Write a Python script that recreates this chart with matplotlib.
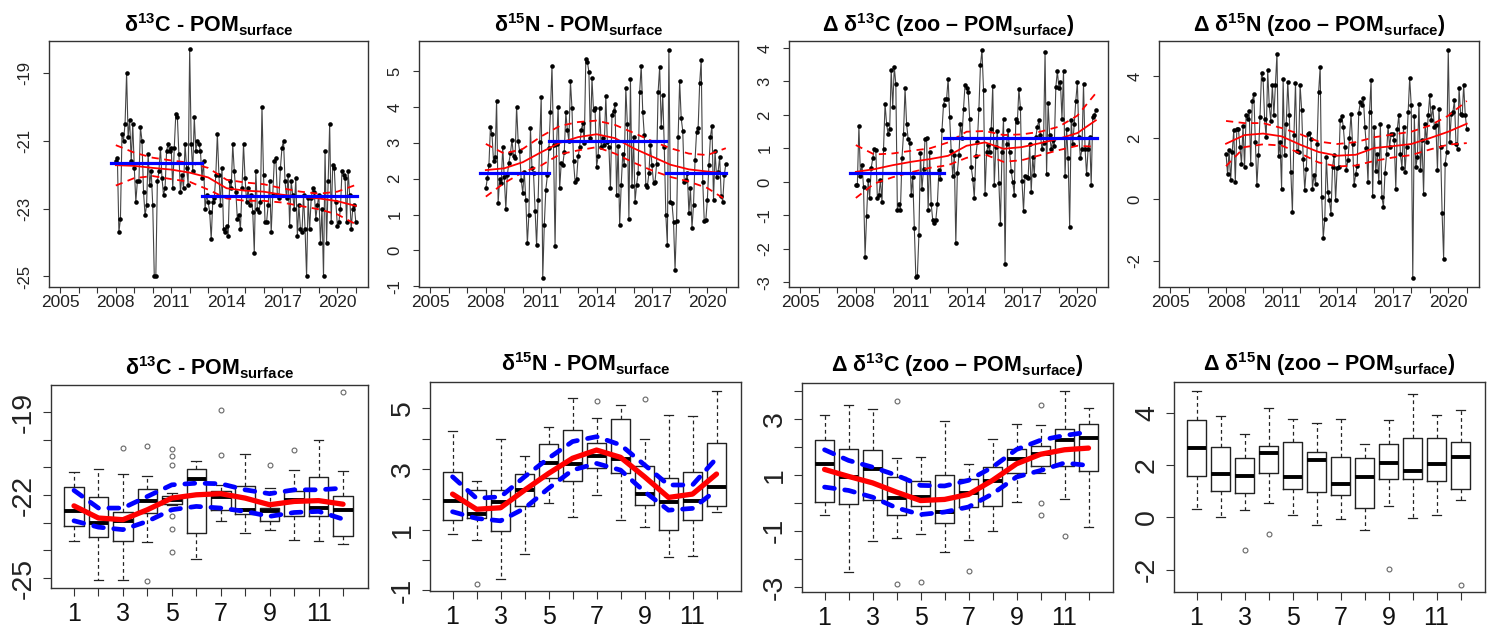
import matplotlib
matplotlib.use("Agg")
import matplotlib.pyplot as plt
import numpy as np

plt.rcParams["font.family"] = ["Liberation Sans", "DejaVu Sans"]
plt.rcParams["mathtext.fontset"] = "custom"
plt.rcParams["mathtext.rm"] = "Liberation Sans:bold"
plt.rcParams["mathtext.it"] = "Liberation Sans:bold"
plt.rcParams["mathtext.bf"] = "Liberation Sans:bold"
plt.rcParams["axes.unicode_minus"] = False

# ---------------- monthly series 2008-01 .. 2021-01 ----------------
d13c_pom = [
    -21.6, -21.5, -23.7, -23.3, -20.8, -21.0, -20.5, -19.0, -20.9, -20.4, -21.6, -20.5,
    -21.8, -22.8, -22.2, -22.2, -20.6, -21.0, -22.5, -23.2, -22.9, -21.4, -22.3, -21.9,
    -22.9, -25.0, -25.0, -22.2, -21.9, -21.2, -22.1, -22.6, -22.4, -21.3, -21.1, -21.3,
    -21.2, -22.4, -21.2, -20.2, -20.3, -21.4, -22.5, -22.0, -22.4, -21.1, -21.8, -22.3,
    -18.3, -21.1, -21.9, -20.3, -21.3, -21.0, -21.1, -21.3, -22.1, -21.6, -23.0, -22.6,
    -22.8, -23.1, -23.9, -22.8, -22.7, -22.0, -20.8, -22.0, -22.9, -21.8, -23.6, -23.7,
    -23.5, -23.8, -22.2, -22.4, -21.1, -21.9, -22.5, -23.3, -23.2, -23.6, -22.4, -21.1,
    -22.1, -22.8, -22.4, -22.9, -22.6, -23.1, -24.3, -21.9, -23.0, -23.1, -22.8, -20.0,
    -22.0, -23.4, -23.4, -22.9, -22.2, -23.7, -22.6, -21.6, -21.5, -22.6, -22.7, -21.8,
    -21.2, -21.0, -22.2, -22.7, -22.0, -23.5, -22.2, -22.6, -23.0, -22.1, -23.8, -22.9,
    -23.6, -23.7, -22.6, -23.6, -25.0, -22.7, -23.6, -22.7, -22.4, -22.5, -23.3, -22.9,
    -22.6, -24.0, -23.0, -25.0, -21.3, -24.0, -22.2, -20.5, -23.4, -21.7, -21.8, -22.8,
    -23.5, -23.4, -23.0, -21.9, -22.0, -22.1, -23.4, -21.9, -22.6, -23.6, -23.0, -22.9,
    -23.4,
]
d15n_pom = [
    1.73, 2.01, 2.37, 3.45, 3.25, 2.48, 2.6, 4.17, 1.32, 2.0, 1.87, 2.89,
    2.05, 1.15, 2.11, 2.45, 2.71, 3.08, 2.62, 2.57, 4.01, 3.06, 2.76, 1.97,
    1.61, 2.2, 1.41, 0.2, 1.0, 3.42, 2.29, 2.15, 1.11, 0.14, 1.41, 3.03,
    4.29, -0.77, 0.71, 1.69, 2.09, 2.85, 3.87, 5.15, 2.94, 0.11, 2.97, 4.01,
    1.73, 2.43, 2.38, 2.74, 3.85, 3.36, 3.05, 4.72, 3.96, 2.48, 1.92, 1.99,
    2.62, 2.89, 3.36, 3.54, 3.0, 5.35, 5.26, 4.98, 3.13, 4.8, 3.91, 3.96,
    2.34, 2.62, 3.96, 2.89, 3.13, 2.95, 4.3, 3.03, 2.89, 1.73, 3.78, 3.89,
    4.07, 1.55, 2.9, 0.71, 1.83, 2.69, 2.38, 4.52, 3.53, 0.87, 4.78, 1.81,
    3.17, 1.36, 1.83, 2.15, 4.42, 5.15, 3.87, 3.22, 1.83, 1.78, 2.15, 2.94,
    2.38, 1.87, 1.92, 2.4, 4.42, 5.12, 3.45, 4.33, 2.89, 1.0, 0.16, 5.58,
    1.36, 1.32, 0.8, -0.54, 0.81, 3.17, 4.72, 3.68, 3.34, 1.92, 1.97, 2.15,
    1.04, 1.73, 0.62, 1.27, 2.52, 3.31, 3.40, 4.66, 5.31, 1.92, 0.81, 0.85,
    1.41, 2.37, 3.17, 3.47, 1.41, 2.76, 2.06, 2.2, 2.6, 1.53, 1.36, 2.1,
    2.41,
]
dd13c = [
    -0.1, -0.08, 1.67, 0.18, 0.52, -0.15, -2.23, -1.02, 0.05, -0.48, 0.42, 0.7,
    0.99, 0.94, -0.48, -0.4, 0.05, -0.6, 0.97, 2.33, 1.74, 1.42, 1.59, 3.35,
    2.23, 3.43, 2.93, -0.84, -0.65, -0.84, 0.72, 1.44, 2.8, 1.74, 1.29, 1.16,
    -0.4, 0.15, -1.37, -2.83, -2.81, -1.59, 0.87, -0.22, 0.4, 1.29, 1.32, -0.84,
    0.89, -0.67, -1.14, -1.22, -1.14, -0.65, 0.35, 0.08, 1.54, 2.31, 2.48, 2.48,
    3.08, 1.94, 0.91, 0.18, 0.79, -1.82, 0.28, 0.79, 1.74, 1.32, 2.18, 2.91,
    2.81, 2.68, 1.89, 0.45, 0.1, -0.48, 0.76, 1.19, 2.18, 3.48, 3.94, 2.75,
    -0.37, 0.89, 1.09, 0.89, 1.59, 2.88, -0.08, 1.04, 1.52, -0.03, -1.27, 0.89,
    1.89, -2.46, 1.14, 1.54, 0.89, 0.33, 0.0, -0.38, 1.89, 1.79, 2.78, 2.2,
    0.03, -0.87, 0.18, 0.15, 0.12, 1.12, -0.3, 0.74, 0.2, 1.34, 1.64, 1.84,
    1.39, 0.99, 1.16, 3.87, 0.25, 2.35, 1.39, 0.99, 1.24, 1.06, 2.83, 3.3,
    2.81, 2.98, 1.89, 3.31, 0.17, 1.59, 0.7, -1.34, 1.84, 1.14, 1.74, 2.43,
    2.98, 1.34, 0.7, 0.99, 2.93, 0.99, 0.23, 0.99, 1.34, -0.08, 1.94, 1.99,
    2.14,
]
dd15n = [
    1.49, 0.81, 1.59, 0.62, 1.54, 2.24, 0.56, 2.3, 2.3, 1.7, 1.16, 2.38,
    1.05, 2.73, 2.62, 2.86, 1.16, 3.19, 3.44, 1.86, 0.46, 1.43, 2.68, 4.11,
    3.92, 2.62, 2.03, 4.2, 3.06, 2.55, 3.71, 2.73, 3.73, 4.74, 1.4, 1.86,
    0.35, 3.9, 1.45, 2.46, 3.82, 2.73, 0.89, -0.42, 2.08, 3.78, 1.56, 1.54,
    3.71, 2.92, 1.32, 0.31, 1.0, 2.11, 2.16, 1.97, 0.35, 0.8, 0.51, 1.79,
    3.49, 4.3, 0.08, -1.25, -0.63, 1.38, 0.24, -0.03, -0.47, 1.05, 1.43, -0.03,
    1.02, 1.05, 2.57, 2.71, 2.35, 1.7, 0.96, 1.29, 2.01, 2.79, 1.79, 0.48,
    0.81, 1.1, 2.81, 3.17, 3.08, 3.3, 2.35, 1.67, 0.55, 2.84, 3.89, 0.1,
    2.35, 0.91, 1.46, 0.56, 2.46, 0.08, -0.25, 0.86, 1.46, 2.37, 1.7, 2.14,
    2.11, 1.94, 0.35, 2.3, 2.75, 1.46, 1.03, 2.35, 0.89, 1.7, 2.84, 3.95,
    3.06, -2.56, 2.7, 1.05, 1.38, 3.11, 0.94, 1.92, 0.18, 2.46, 1.86, 2.73,
    3.38, 2.57, 3.0, 2.35, 2.41, 0.94, 2.95, 1.7, -0.43, -1.93, 1.16, 1.54,
    4.87, 1.86, 2.79, 2.84, 3.22, 1.81, 1.65, 3.62, 2.79, 2.73, 3.71, 2.75,
    2.3,
]
t = 2008 + np.arange(len(d13c_pom)) / 12.0

# smoothed trend (red) and its band, read at the start of each year
fit_years = np.arange(2008, 2022)
fit_c13 = [-21.72, -21.74, -21.8, -21.85, -21.94, -22.08, -22.4, -22.47, -22.5, -22.59, -22.65, -22.7, -22.78, -22.92]
up_c13 = [-21.13, -21.35, -21.5, -21.58, -21.65, -21.8, -22.15, -22.23, -22.28, -22.4, -22.5, -22.56, -22.5, -22.3]
lo_c13 = [-22.32, -22.1, -22.04, -22.13, -22.21, -22.44, -22.7, -22.77, -22.77, -22.82, -22.92, -23.02, -23.17, -23.46]
fit_n15 = [2.24, 2.29, 2.46, 2.74, 3.0, 3.16, 3.24, 3.13, 2.85, 2.62, 2.39, 2.26, 2.2, 2.15]
up_n15 = [2.97, 2.7, 2.83, 3.18, 3.47, 3.58, 3.62, 3.5, 3.28, 3.05, 2.85, 2.7, 2.66, 2.85]
lo_n15 = [1.5, 1.88, 2.18, 2.37, 2.68, 2.79, 2.88, 2.7, 2.45, 2.23, 2.05, 1.92, 1.74, 1.41]
fit_dc = [0.3, 0.38, 0.5, 0.6, 0.68, 0.78, 1.08, 1.18, 0.99, 1.04, 1.16, 1.29, 1.46, 1.84]
up_dc = [1.1, 0.82, 0.85, 0.93, 1.0, 1.18, 1.5, 1.52, 1.4, 1.42, 1.5, 1.65, 1.98, 2.65]
lo_dc = [-0.48, -0.05, 0.14, 0.29, 0.42, 0.5, 0.72, 0.82, 0.6, 0.65, 0.8, 0.95, 1.08, 1.05]
fit_dn = [1.81, 2.09, 2.14, 2.05, 1.78, 1.54, 1.42, 1.45, 1.67, 1.73, 1.8, 1.99, 2.2, 2.46]
up_dn = [2.55, 2.48, 2.48, 2.32, 2.12, 1.88, 1.8, 1.86, 2.02, 2.11, 2.2, 2.4, 2.72, 3.2]
lo_dn = [1.08, 1.7, 1.79, 1.75, 1.5, 1.2, 1.07, 1.1, 1.25, 1.36, 1.44, 1.62, 1.78, 1.83]

# breakpoint segments (blue): start, end, mean
seg_c13_start = [2007.74, 2012.69]
seg_c13_end = [2012.69, 2021.04]
seg_c13_mean = [-21.67, -22.63]
seg_n15_start = [2007.7, 2011.43, 2017.76]
seg_n15_end = [2011.43, 2017.76, 2021.0]
seg_n15_mean = [2.15, 3.06, 2.17]
seg_dc_start = [2007.7, 2012.75]
seg_dc_end = [2012.75, 2021.05]
seg_dc_mean = [0.28, 1.31]

# ---------------- monthly box plots ----------------
months = np.arange(1, 13)
c13_hi = [-21.17, -21.05, -21.24, -21.3, -21.93, -20.78, -21.63, -20.51, -21.75, -21.11, -20.0, -21.14]
c13_q3 = [-21.71, -22.07, -22.63, -21.77, -22.02, -21.07, -21.87, -21.66, -22.47, -21.87, -21.33, -22.02]
c13_med = [-22.59, -23.01, -22.95, -22.23, -22.19, -21.42, -22.07, -22.55, -22.59, -22.17, -22.47, -22.55]
c13_q1 = [-23.13, -23.53, -23.67, -22.65, -22.31, -23.37, -22.53, -22.69, -22.95, -22.75, -22.75, -23.47]
c13_lo = [-23.67, -25.06, -25.06, -23.71, -22.35, -24.31, -22.95, -23.37, -23.28, -23.61, -23.67, -23.76]
c13_out = [[], [], [-20.3], [-20.22, -25.1], [-20.34, -20.6, -20.93, -22.77, -23.22, -24.07], [],
           [-18.94, -20.54], [], [-20.93], [-20.36], [], [-18.28]]
c13_mfit = [-22.39, -22.83, -22.89, -22.53, -22.11, -21.99, -21.95, -22.11, -22.35, -22.23, -22.2, -22.33]
c13_mup = [-21.83, -22.47, -22.47, -22.05, -21.63, -21.57, -21.59, -21.81, -21.95, -21.81, -21.81, -21.75]
c13_mlo = [-22.93, -23.16, -23.25, -22.95, -22.53, -22.41, -22.47, -22.59, -22.77, -22.63, -22.59, -22.87]

n15_hi = [4.25, 2.6, 3.99, 3.43, 4.39, 5.33, 4.67, 5.11, 3.99, 4.78, 4.75, 5.58]
n15_q3 = [2.89, 2.3, 2.3, 2.83, 3.81, 4.28, 3.84, 4.65, 3.09, 2.69, 2.91, 3.84]
n15_med = [1.95, 1.51, 1.92, 2.3, 3.2, 3.16, 3.43, 3.31, 2.17, 1.92, 1.95, 2.41]
n15_q1 = [1.33, 1.37, 0.96, 1.77, 2.71, 2.61, 3.02, 2.85, 1.81, 0.98, 1.31, 1.77]
n15_lo = [0.84, 0.65, -0.62, 0.19, 1.88, 1.4, 2.14, 1.31, 1.09, 0.1, 0.12, 1.59]
n15_out = [[], [-0.78], [], [], [], [], [5.24], [], [5.31], [], [], []]
n15_mfit = [2.17, 1.67, 1.72, 2.3, 2.85, 3.35, 3.62, 3.38, 2.74, 2.06, 2.17, 2.83]
n15_mup = [2.74, 2.03, 2.08, 2.74, 3.35, 3.9, 4.06, 3.79, 3.13, 2.47, 2.47, 3.35]
n15_mlo = [1.59, 1.37, 1.29, 1.7, 2.36, 2.96, 3.18, 2.96, 2.25, 1.64, 1.7, 2.3]

dc_hi = [3.12, 3.5, 3.36, 1.6, 1.63, 2.9, 1.37, 2.29, 2.82, 2.76, 3.99, 3.39]
dc_q3 = [2.25, 1.93, 1.89, 0.92, 0.76, 0.98, 0.86, 1.27, 1.93, 2.01, 2.64, 2.82]
dc_med = [1.39, 0.92, 1.21, 0.18, 0.2, -0.33, 0.36, 0.76, 1.57, 1.75, 2.23, 2.32]
dc_q1 = [0.02, -0.06, 0.11, -0.42, -0.13, -0.71, -0.15, -0.1, 1.07, 1.31, 1.31, 1.15]
dc_lo = [-0.43, -2.48, -1.37, -1.25, -1.13, -1.76, -1.32, -1.01, 0.02, 1.05, 0.12, -0.87]
dc_out = [[], [], [], [3.62, -2.89], [-2.83], [], [-2.42], [], [], [3.48, -0.01, -0.45], [-1.17], []]
dc_mfit = [1.19, 0.94, 0.71, 0.38, 0.08, 0.12, 0.3, 0.8, 1.39, 1.73, 1.89, 1.95]
dc_mup = [1.89, 1.51, 1.27, 0.98, 0.62, 0.6, 0.8, 1.27, 1.9, 2.23, 2.4, 2.52]
dc_mlo = [0.56, 0.44, 0.2, -0.18, -0.42, -0.33, -0.15, 0.32, 0.92, 1.15, 1.42, 1.33]

dn_hi = [4.86, 3.9, 3.2, 4.19, 3.78, 3.61, 3.77, 2.81, 3.74, 4.74, 3.94, 4.13]
dn_q3 = [3.72, 2.68, 2.26, 2.74, 2.9, 2.49, 2.3, 2.26, 2.8, 3.06, 3.03, 2.9]
dn_med = [2.67, 1.68, 1.59, 2.45, 1.55, 2.19, 1.29, 1.55, 2.09, 1.77, 2.04, 2.3]
dn_q1 = [1.57, 1.01, 0.94, 1.72, 1.1, 0.97, 0.84, 0.36, 1.46, 1.46, 1.39, 1.1]
dn_lo = [0.32, 0.03, 0.28, 0.54, 0.09, -0.28, -0.08, -0.48, 0.45, -0.04, 0.09, 0.68]
dn_out = [[], [], [-1.25], [-0.65], [], [], [], [], [-1.97], [], [], [-2.58]]

title_c13 = "δ$^{13}$C - POM$_{surface}$"
title_n15 = "δ$^{15}$N - POM$_{surface}$"
title_dc = "Δ δ$^{13}$C (zoo – POM$_{surface}$)"
title_dn = "Δ δ$^{15}$N (zoo – POM$_{surface}$)"

W, H = 1497, 630
fig = plt.figure(figsize=(W / 100, H / 100), dpi=100)
FRAME = "#333333"


def add_ax(l, t_, r, b):
    ax = fig.add_axes([l / W, 1 - b / H, (r - l) / W, (b - t_) / H])
    for s in ax.spines.values():
        s.set_color(FRAME)
        s.set_linewidth(1.0)
    return ax


def set_yaxis(ax, ticks, labels, size, pad, length):
    ax.set_yticks(ticks)
    ax.set_yticklabels(labels, rotation=90, va="center", fontsize=size, color="#222222")
    ax.tick_params(axis="y", length=length, width=0.8, color=FRAME, pad=pad)


def ts_panel(ax, y, fit, up, lo, s0, s1, sm, ylim, yt, title):
    ax.plot(t, y, color="#454545", lw=0.8, zorder=2)
    ax.plot(t, y, "o", color="black", ms=3.3, mew=0, zorder=3)
    ax.plot(fit_years, fit, color="red", lw=1.3, zorder=4)
    ax.plot(fit_years, up, color="red", lw=1.3, ls=(0, (4, 3)), zorder=4)
    ax.plot(fit_years, lo, color="red", lw=1.3, ls=(0, (4, 3)), zorder=4)
    for a, b, m in zip(s0, s1, sm):
        ax.plot([a, b], [m, m], color="blue", lw=2.3, zorder=5)
    ax.set_xlim(2004.38, 2021.66)
    ax.set_ylim(*ylim)
    years = np.arange(2005, 2022)
    ax.set_xticks(years)
    ax.set_xticklabels([str(v) if (v - 2005) % 3 == 0 else "" for v in years],
                       fontsize=12.5, color="#222222")
    ax.tick_params(axis="x", length=4, width=0.8, color=FRAME, pad=2)
    set_yaxis(ax, yt, [f"{v:g}" for v in yt], 12, 8, 4)
    ax.text(0.5, 1 + 16 / 246, title, transform=ax.transAxes, ha="center", va="center",
            fontsize=15.5, fontweight="bold")


def box_panel(ax, hi, q3, med, q1, lo, out, ylim, yt, ylab, title, fit=None, up=None, low=None):
    stats = [dict(med=med[i], q1=q1[i], q3=q3[i], whislo=lo[i], whishi=hi[i], fliers=out[i])
             for i in range(12)]
    ax.bxp(stats, positions=months, widths=0.8, capwidths=0.4, manage_ticks=False,
           boxprops=dict(color="#222222", lw=1.0),
           medianprops=dict(color="black", lw=2.8, solid_capstyle="butt"),
           whiskerprops=dict(color="#222222", lw=0.9, ls=(0, (3, 2.5))),
           capprops=dict(color="#222222", lw=0.9),
           flierprops=dict(marker="o", mfc="none", mec="#666666", ms=3.5, mew=0.8))
    if fit is not None:
        for band in (up, low):
            ax.plot(months, band, color="blue", lw=3.4, dashes=(2.1, 2.2),
                    dash_capstyle="round", zorder=4)
        ax.plot(months, fit, color="red", lw=3.8, solid_capstyle="round", zorder=5)
    ax.set_xlim(0.06, 13.02)
    ax.set_ylim(*ylim)
    ax.set_xticks(months)
    ax.set_xticklabels([str(m) if m % 2 == 1 else "" for m in months], fontsize=18,
                       color="#111111")
    ax.tick_params(axis="x", length=6, width=0.8, color=FRAME, pad=4)
    set_yaxis(ax, yt, [f"{v:g}" if v in ylab else "" for v in yt], 20.5, 4, 6)
    ax.text(0.5, 1 + 18 / 208, title, transform=ax.transAxes, ha="center", va="center",
            fontsize=15.5, fontweight="bold")


# top row: time series
ax1 = add_ax(49, 41, 368, 287)
ts_panel(ax1, d13c_pom, fit_c13, up_c13, lo_c13, seg_c13_start, seg_c13_end, seg_c13_mean,
         (-25.31, -18.06), [-25, -23, -21, -19], title_c13)
ax2 = add_ax(419, 41, 738, 287)
ts_panel(ax2, d15n_pom, fit_n15, up_n15, lo_n15, seg_n15_start, seg_n15_end, seg_n15_mean,
         (-1.02, 5.84), [-1, 0, 1, 2, 3, 4, 5], title_n15)
ax3 = add_ax(789, 41, 1108, 287)
ts_panel(ax3, dd13c, fit_dc, up_dc, lo_dc, seg_dc_start, seg_dc_end, seg_dc_mean,
         (-3.14, 4.21), [-3, -2, -1, 0, 1, 2, 3, 4], title_dc)
ax4 = add_ax(1159, 41, 1479, 287)
ts_panel(ax4, dd15n, fit_dn, up_dn, lo_dn, [], [], [],
         (-2.85, 5.15), [-2, 0, 2, 4], title_dn)

# bottom row: monthly box plots
ax5 = add_ax(51, 385, 368, 588)
box_panel(ax5, c13_hi, c13_q3, c13_med, c13_q1, c13_lo, c13_out, (-25.36, -18.02),
          [-25, -24, -23, -22, -21, -20, -19], [-25, -22, -19], title_c13,
          c13_mfit, c13_mup, c13_mlo)
ax6 = add_ax(430, 382, 741, 591)
box_panel(ax6, n15_hi, n15_q3, n15_med, n15_q1, n15_lo, n15_out, (-1.02, 5.86),
          [-1, 0, 1, 2, 3, 4, 5], [-1, 1, 3, 5], title_n15,
          n15_mfit, n15_mup, n15_mlo)
ax7 = add_ax(802, 383, 1113, 592)
box_panel(ax7, dc_hi, dc_q3, dc_med, dc_q1, dc_lo, dc_out, (-3.18, 4.27),
          [-3, -2, -1, 0, 1, 2, 3, 4], [-3, -1, 1, 3], title_dc,
          dc_mfit, dc_mup, dc_mlo)
ax8 = add_ax(1174, 382, 1485, 592)
box_panel(ax8, dn_hi, dn_q3, dn_med, dn_q1, dn_lo, dn_out, (-2.86, 5.19),
          [-2, 0, 2, 4], [-2, 0, 2, 4], title_dn)

fig.savefig("out.png", dpi=100, facecolor="white")
